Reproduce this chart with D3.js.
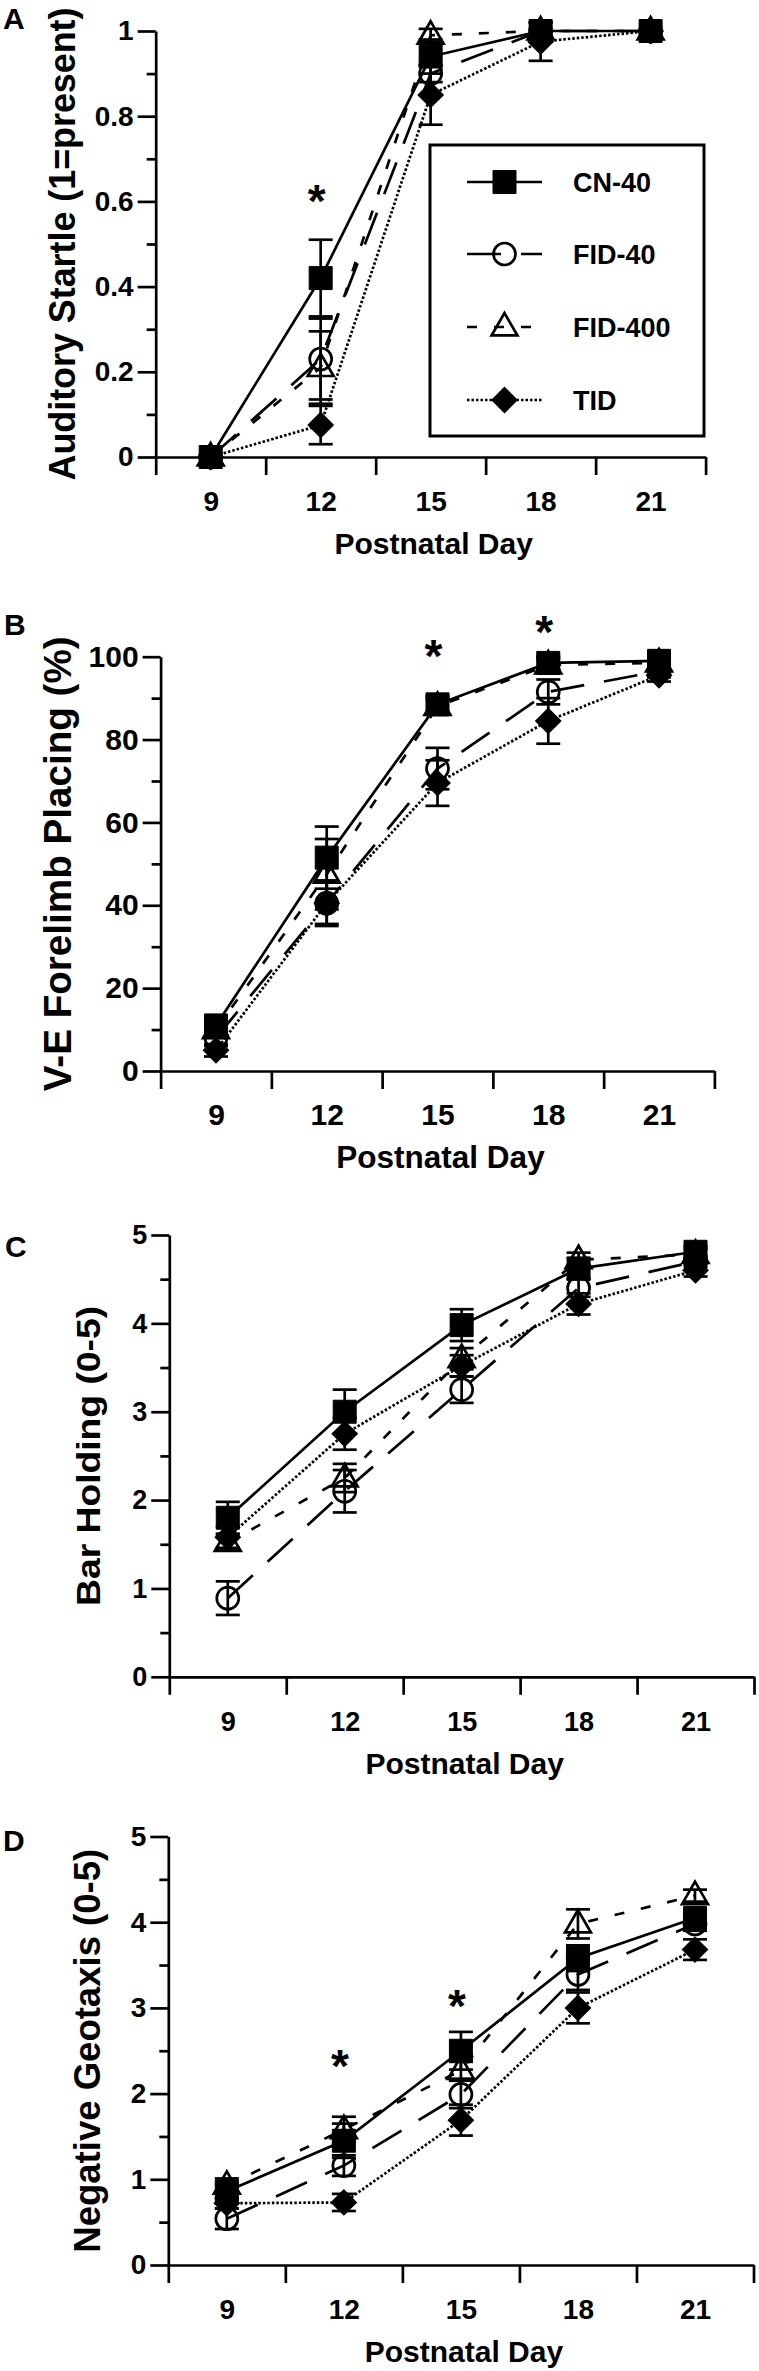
<!DOCTYPE html>
<html><head><meta charset="utf-8">
<script src="https://cdn.jsdelivr.net/npm/d3@7"></script>
<style>
body{margin:0;background:#fff;}
svg{display:block;font-family:"Liberation Sans",Arial,Helvetica,sans-serif;font-weight:bold;}
</style></head><body>
<svg id="chart" width="759" height="2371"></svg>
<script>
// ---------- data ----------
const days = [9, 12, 15, 18, 21];
const groups = ["CN-40", "FID-40", "FID-400", "TID"];
const xTickLabels = ["9", "12", "15", "18", "21"];
const xAxisTitle = "Postnatal Day";
const panelLetters = ["A", "B", "C", "D"];
const yTitles = ["Auditory Startle (1=present)", "V-E Forelimb Placing (%)", "Bar Holding (0-5)", "Negative Geotaxis (0-5)"];

// A: Auditory startle (mean, SE)
const startleCN = [0, 0.42, 0.94, 1.0, 1.0];
const startleCNse = [0, 0.09, 0.04, 0.02, 0];
const startleFID40 = [0, 0.23, 0.90, 1.0, 1.0];
const startleFID40se = [0, 0.095, 0.02, 0, 0];
const startleFID400 = [0, 0.21, 0.99, 1.0, 1.0];
const startleFID400se = [0, 0.085, 0.015, 0, 0];
const startleTID = [0, 0.075, 0.85, 0.975, 1.0];
const startleTIDse = [0, 0.045, 0.07, 0.045, 0];

// B: V-E forelimb placing (%)
const placingCN = [11, 51.5, 88.5, 98.5, 99];
const placingCNse = [2, 7.5, 2, 1.5, 1];
const placingFID40 = [8, 40.5, 73, 91.5, 96.5];
const placingFID40se = [2, 5.5, 5, 3, 1.5];
const placingFID400 = [10, 47.5, 88, 98, 98.5];
const placingFID400se = [2, 8.5, 2, 1.5, 1];
const placingTID = [5, 40.5, 69.5, 84.5, 95.5];
const placingTIDse = [1.5, 5, 5.5, 5.5, 1.5];

// C: Bar holding (0-5)
const barCN = [1.80, 3.00, 3.98, 4.62, 4.81];
const barCNse = [0.18, 0.25, 0.18, 0.12, 0.06];
const barFID40 = [0.89, 2.10, 3.25, 4.40, 4.70];
const barFID40se = [0.19, 0.24, 0.15, 0.10, 0.06];
const barFID400 = [1.52, 2.25, 3.60, 4.72, 4.78];
const barFID400se = [0.09, 0.16, 0.12, 0.08, 0.06];
const barTID = [1.58, 2.75, 3.52, 4.22, 4.60];
const barTIDse = [0.12, 0.18, 0.12, 0.12, 0.07];

// D: Negative geotaxis (0-5)
const geoCN = [0.86, 1.45, 2.50, 3.58, 4.05];
const geoCNse = [0.08, 0.20, 0.22, 0.15, 0.10];
const geoFID40 = [0.54, 1.16, 1.99, 3.39, 3.98];
const geoFID40se = [0.12, 0.12, 0.16, 0.18, 0.08];
const geoFID400 = [0.93, 1.58, 2.27, 3.98, 4.31];
const geoFID400se = [0.08, 0.15, 0.10, 0.17, 0.07];
const geoTID = [0.72, 0.73, 1.69, 3.00, 3.68];
const geoTIDse = [0.06, 0.10, 0.18, 0.18, 0.12];

// significance markers (day, height in data units)
const starsA = [{day: 12, v: 0.62}];
const starsB = [{day: 15, v: 102}, {day: 18, v: 108}];
const starsC = [];
const starsD = [{day: 12, v: 2.42}, {day: 15, v: 3.12}];

// y-axis ticks
const yMajorA = [0, 0.2, 0.4, 0.6, 0.8, 1];
const yMinorA = [0.1, 0.3, 0.5, 0.7, 0.9];
const yMajorB = [0, 20, 40, 60, 80, 100];
const yMinorB = [10, 30, 50, 70, 90];
const yMajorC = [0, 1, 2, 3, 4, 5];
const yMinorC = [0.5, 1.5, 2.5, 3.5, 4.5];
const yMajorD = [0, 1, 2, 3, 4, 5];
const yMinorD = [0.5, 1.5, 2.5, 3.5, 4.5];

// ---------- layout / style ----------
const panels = [
  {letter: panelLetters[0], title: yTitles[0], means: [startleCN, startleFID40, startleFID400, startleTID],
   ses: [startleCNse, startleFID40se, startleFID400se, startleTIDse], yMax: 1, major: yMajorA, minor: yMinorA,
   fmt: d => (d === 0 || d === 1) ? String(d) : d.toFixed(1), stars: starsA,
   x0: 155.7, x1: 705.6, yTop: 31, yBot: 457, titleX: 75, titleFs: 36, titleLen: 473,
   tickFs: 28, xTitleFs: 30, letterX: 3, letterY: 29, legend: true},
  {letter: panelLetters[1], title: yTitles[1], means: [placingCN, placingFID40, placingFID400, placingTID],
   ses: [placingCNse, placingFID40se, placingFID400se, placingTIDse], yMax: 100, major: yMajorB, minor: yMinorB,
   fmt: d => String(d), stars: starsB,
   x0: 160.6, x1: 714.4, yTop: 656.7, yBot: 1071, titleX: 71, titleFs: 38.5, titleLen: 455,
   tickFs: 30, xTitleFs: 31.5, letterX: 4, letterY: 635},
  {letter: panelLetters[2], title: yTitles[2], means: [barCN, barFID40, barFID400, barTID],
   ses: [barCNse, barFID40se, barFID400se, barTIDse], yMax: 5, major: yMajorC, minor: yMinorC,
   fmt: d => String(d), stars: starsC,
   x0: 169.3, x1: 754, yTop: 1235, yBot: 1676.8, titleX: 100, titleFs: 34, titleLen: 300,
   tickFs: 27, xTitleFs: 30, letterX: 5, letterY: 1257},
  {letter: panelLetters[3], title: yTitles[3], means: [geoCN, geoFID40, geoFID400, geoTID],
   ses: [geoCNse, geoFID40se, geoFID400se, geoTIDse], yMax: 5, major: yMajorD, minor: yMinorD,
   fmt: d => String(d), stars: starsD,
   x0: 168.3, x1: 753.5, yTop: 1836.5, yBot: 2265, titleX: 100, titleFs: 36.5, titleLen: 404,
   tickFs: 28, xTitleFs: 30, letterX: 3, letterY: 1851}
];

const seriesStyle = {
  "CN-40":   {dash: null,     marker: "square"},
  "FID-40":  {dash: "34,20",  marker: "circle"},
  "FID-400": {dash: "10,17",  marker: "triangle"},
  "TID":     {dash: "2.5,2",  marker: "diamond"}
};
const SW = 2.7;

function markerPath(kind) {
  if (kind === "square") return d3.symbol(d3.symbolSquare, 23 * 23)();
  if (kind === "circle") return d3.symbol(d3.symbolCircle, Math.PI * 11 * 11)();
  if (kind === "triangle") return d3.symbol(d3.symbolTriangle, 290)();
  return d3.symbol(d3.symbolSquare, 18 * 18)();
}
function drawMarker(g, kind, cx, cy) {
  const filled = (kind === "square" || kind === "diamond");
  g.append("path")
    .attr("d", markerPath(kind))
    .attr("transform", `translate(${cx},${cy})` + (kind === "diamond" ? " rotate(45)" : "") + (kind === "triangle" ? " translate(0,1)" : ""))
    .attr("fill", filled ? "#000" : "none")
    .attr("stroke", "#000")
    .attr("stroke-width", filled ? 1 : SW);
}

const svg = d3.select("#chart");

panels.forEach(p => {
  const g = svg.append("g");
  const x = d3.scaleLinear().domain([7.5, 22.5]).range([p.x0, p.x1]);
  const y = d3.scaleLinear().domain([0, p.yMax]).range([p.yBot, p.yTop]);

  // x axis: boundary ticks
  const xa = g.append("g").attr("transform", `translate(0,${p.yBot})`)
    .call(d3.axisBottom(x).tickValues([7.5, 10.5, 13.5, 16.5, 19.5, 22.5]).tickSize(18).tickSizeOuter(0).tickFormat(""));
  // x axis labels at days
  const xl = g.append("g").attr("transform", `translate(0,${p.yBot})`)
    .call(d3.axisBottom(x).tickValues(days).tickSize(0).tickPadding(54 - 0.71 * p.tickFs).tickFormat((d, i) => xTickLabels[i]));
  xl.select(".domain").remove();
  xl.selectAll("text").attr("font-size", p.tickFs).attr("font-weight", "bold").attr("font-family", null).attr("fill", "#000");

  // y axis
  const ya = g.append("g").attr("transform", `translate(${p.x0},0)`)
    .call(d3.axisLeft(y).tickValues(p.major).tickSize(18).tickSizeOuter(0).tickPadding(4).tickFormat(p.fmt));
  ya.selectAll("text").attr("font-size", p.tickFs).attr("font-weight", "bold").attr("font-family", null).attr("fill", "#000");
  const ym = g.append("g").attr("transform", `translate(${p.x0},0)`)
    .call(d3.axisLeft(y).tickValues(p.minor).tickSize(9).tickFormat(""));
  ym.select(".domain").remove();

  [xa, ya, ym].forEach(a => {
    a.selectAll(".domain").attr("stroke", "#000").attr("stroke-width", SW);
    a.selectAll(".tick line").attr("stroke", "#000").attr("stroke-width", SW);
  });

  // titles
  g.append("text").attr("x", (p.x0 + p.x1) / 2 + 3).attr("y", p.yBot + 97)
    .attr("text-anchor", "middle").attr("font-size", p.xTitleFs).text(xAxisTitle);
  g.append("text").attr("transform", `translate(${p.titleX},${(p.yTop + p.yBot) / 2}) rotate(-90)`)
    .attr("text-anchor", "middle").attr("font-size", p.titleFs)
    .attr("textLength", p.titleLen).attr("lengthAdjust", "spacingAndGlyphs").text(p.title);
  g.append("text").attr("x", p.letterX).attr("y", p.letterY).attr("font-size", 30).text(p.letter);

  // series (draw TID first, CN-40 last)
  const order = [3, 2, 1, 0];
  order.forEach(si => {
    const name = groups[si];
    const st = seriesStyle[name];
    const m = p.means[si], se = p.ses[si];
    const pts = days.map((d, i) => [x(d), y(m[i])]);
    g.append("path").attr("d", d3.line()(pts))
      .attr("fill", "none").attr("stroke", "#000").attr("stroke-width", SW)
      .attr("stroke-dasharray", st.dash);
    days.forEach((d, i) => {
      if (se[i] > 0) {
        const cx = x(d), yt = y(m[i] + se[i]), yb = y(m[i] - se[i]);
        g.append("line").attr("x1", cx).attr("x2", cx).attr("y1", yt).attr("y2", yb)
          .attr("stroke", "#000").attr("stroke-width", SW);
        [yt, yb].forEach(yy => g.append("line").attr("x1", cx - 12).attr("x2", cx + 12)
          .attr("y1", yy).attr("y2", yy).attr("stroke", "#000").attr("stroke-width", SW));
      }
    });
    days.forEach((d, i) => drawMarker(g, st.marker, x(d), y(m[i])));
  });

  // significance asterisks
  p.stars.forEach(s => {
    g.append("text").attr("x", x(s.day) - 4).attr("y", y(s.v) + 24)
      .attr("text-anchor", "middle").attr("font-size", 46).text("*");
  });

  // legend
  if (p.legend) {
    const lg = g.append("g");
    lg.append("rect").attr("x", 430).attr("y", 145).attr("width", 274).attr("height", 291)
      .attr("fill", "#fff").attr("stroke", "#000").attr("stroke-width", 3);
    const ly = [182, 254, 327, 400];
    groups.forEach((name, i) => {
      const st = seriesStyle[name];
      lg.append("line").attr("x1", 467).attr("x2", 542).attr("y1", ly[i]).attr("y2", ly[i])
        .attr("stroke", "#000").attr("stroke-width", SW).attr("stroke-dasharray", st.dash);
      drawMarker(lg, st.marker, 504.5, ly[i]);
      lg.append("text").attr("x", 573).attr("y", ly[i] + 9.5).attr("font-size", 27).text(name);
    });
  }
});
</script>
</body></html>
